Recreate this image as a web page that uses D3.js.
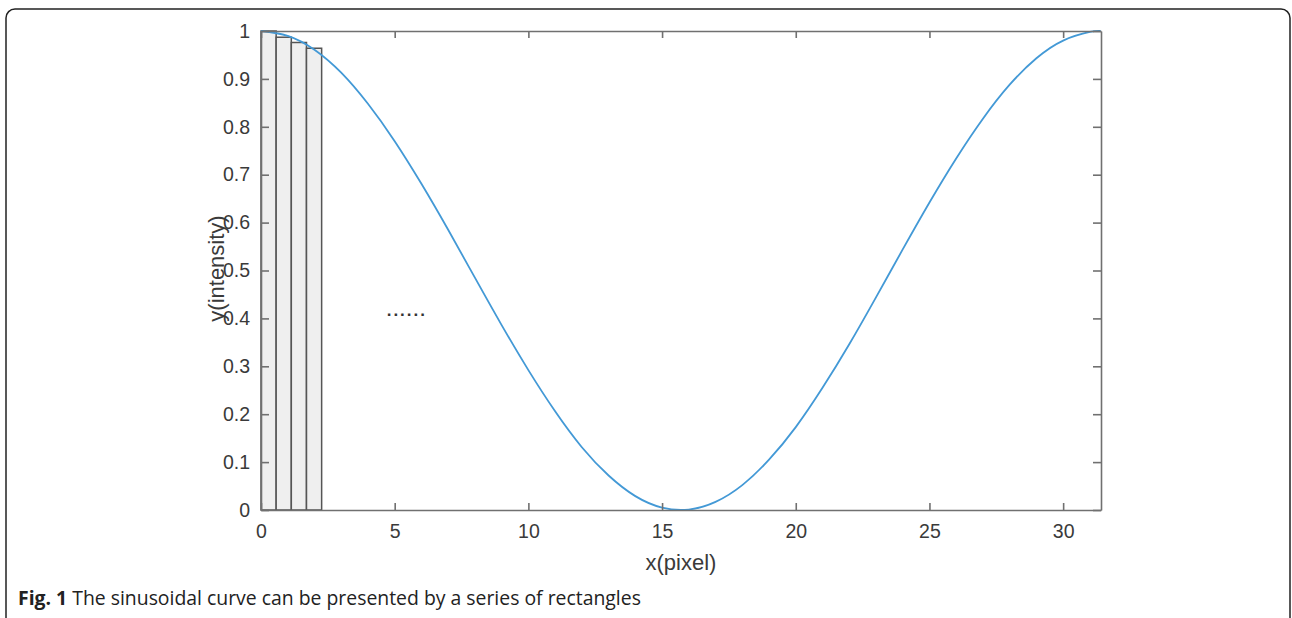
<!DOCTYPE html>
<html>
<head>
<meta charset="utf-8">
<script src="https://cdn.jsdelivr.net/npm/d3@7"></script>
<style>
	body { margin: 0; background: #fff; }
	svg { display: block; }
</style>
</head>
<body>
<div id="chart"></div>
<script>
// curve samples (x in pixels, y intensity)
var curveX = [0, 1, 2, 3, 4, 5, 6, 7, 8, 9, 10, 11, 12, 13, 14, 15, 16, 17, 18, 19, 20,
	21, 22, 23, 24, 25, 26, 27, 28, 29, 30, 31, 31.4];
var curveY = [1, 0.990, 0.961, 0.913, 0.848, 0.770, 0.681, 0.585, 0.485, 0.386, 0.292,
	0.206, 0.131, 0.072, 0.029, 0.005, 0.001, 0.017, 0.052, 0.105, 0.173,
	0.255, 0.346, 0.444, 0.544, 0.642, 0.734, 0.817, 0.888, 0.943, 0.980, 0.998, 1];

// the rectangles under the curve
var rectStart = [0, 0.567, 1.134, 1.701];
var rectEnd = [0.567, 1.134, 1.701, 2.268];
var rectHeight = [1, 0.987, 0.976, 0.964];

var xTicks = [0, 5, 10, 15, 20, 25, 30];
var yTicks = [0, 0.1, 0.2, 0.3, 0.4, 0.5, 0.6, 0.7, 0.8, 0.9, 1];

var xDomain = [0, 31.4159];
var yDomain = [0, 1];

var svgWidth = 1292;
var svgHeight = 618;

var margin = { top: 31, right: 191, bottom: 108, left: 261 };
var width = svgWidth - margin.left - margin.right;
var height = svgHeight - margin.top - margin.bottom;

var svg = d3.select("#chart")
	.append("svg")
	.attr("width", svgWidth)
	.attr("height", svgHeight);

// figure frame
svg.append("rect")
	.attr("x", 6)
	.attr("y", 9)
	.attr("width", 1284)
	.attr("height", 620)
	.attr("rx", 9)
	.attr("fill", "none")
	.attr("stroke", "#222")
	.attr("stroke-width", 1.5);

var chartGroup = svg.append("g")
	.attr("transform", `translate(${margin.left}, ${margin.top})`);

var xScale = d3.scaleLinear().domain(xDomain).range([0, width]);
var yScale = d3.scaleLinear().domain(yDomain).range([height, 0]);

// rectangles
chartGroup.selectAll("rect.bin")
	.data(rectHeight)
	.enter()
	.append("rect")
	.attr("class", "bin")
	.attr("x", (d, i) => xScale(rectStart[i]))
	.attr("y", d => yScale(d))
	.attr("width", (d, i) => xScale(rectEnd[i]) - xScale(rectStart[i]))
	.attr("height", d => yScale(0) - yScale(d))
	.attr("fill", "#efefef")
	.attr("stroke", "#555")
	.attr("stroke-width", 1.5);

// sinusoidal curve
var line = d3.line()
	.x(d => xScale(d[0]))
	.y(d => yScale(d[1]))
	.curve(d3.curveNatural);

chartGroup.append("path")
	.datum(curveX.map((x, i) => [x, curveY[i]]))
	.attr("d", line)
	.attr("fill", "none")
	.attr("stroke", "#4399d6")
	.attr("stroke-width", 1.8);

// dotted "......" annotation
chartGroup.append("text")
	.attr("x", xScale(4.7))
	.attr("y", yScale(0.405))
	.attr("font-family", "Liberation Sans, Arial, sans-serif")
	.attr("font-size", 17)
	.attr("font-weight", "bold")
	.attr("letter-spacing", 2)
	.attr("fill", "#333")
	.text("......");

// axes (MATLAB style box with inward ticks)
var axisColor = "#707070";
var fmt = d3.format("~g");

var bottomAxis = d3.axisBottom(xScale).tickValues(xTicks).tickFormat(fmt)
	.tickSizeInner(-7).tickSizeOuter(0).tickPadding(14);
var topAxis = d3.axisTop(xScale).tickValues(xTicks).tickFormat("")
	.tickSizeInner(-7).tickSizeOuter(0);
var leftAxis = d3.axisLeft(yScale).tickValues(yTicks).tickFormat(fmt)
	.tickSizeInner(-8).tickSizeOuter(0).tickPadding(11);
var rightAxis = d3.axisRight(yScale).tickValues(yTicks).tickFormat("")
	.tickSizeInner(-8).tickSizeOuter(0);

var xAxis = chartGroup.append("g")
	.attr("transform", `translate(0, ${height})`)
	.call(bottomAxis);
var xAxisTop = chartGroup.append("g").call(topAxis);
var yAxis = chartGroup.append("g").call(leftAxis);
var yAxisRight = chartGroup.append("g")
	.attr("transform", `translate(${width}, 0)`)
	.call(rightAxis);

[xAxis, xAxisTop, yAxis, yAxisRight].forEach(a => {
	a.select(".domain").attr("stroke", axisColor).attr("stroke-width", 1.6);
	a.selectAll(".tick line").attr("stroke", axisColor).attr("stroke-width", 1.6);
	a.selectAll(".tick text")
		.attr("fill", "#3a3a3a")
		.attr("font-family", "Liberation Sans, Arial, sans-serif")
		.attr("font-size", 19.5);
});

// axis labels
chartGroup.append("text")
	.attr("x", width / 2)
	.attr("y", height + 60)
	.attr("text-anchor", "middle")
	.attr("fill", "#3a3a3a")
	.attr("font-family", "Liberation Sans, Arial, sans-serif")
	.attr("font-size", 22)
	.text("x(pixel)");

chartGroup.append("text")
	.attr("transform", "rotate(-90)")
	.attr("x", -height / 2 + 2)
	.attr("y", -37)
	.attr("text-anchor", "middle")
	.attr("fill", "#3a3a3a")
	.attr("font-family", "Liberation Sans, Arial, sans-serif")
	.attr("font-size", 22)
	.text("y(intensity)");

// caption
var caption = svg.append("text")
	.attr("x", 18)
	.attr("y", 605)
	.attr("fill", "#222")
	.attr("font-family", "Open Sans, sans-serif")
	.attr("font-size", 19.4);
caption.append("tspan").attr("font-weight", "bold").text("Fig. 1");
caption.append("tspan").text(" The sinusoidal curve can be presented by a series of rectangles");
</script>
</body>
</html>
